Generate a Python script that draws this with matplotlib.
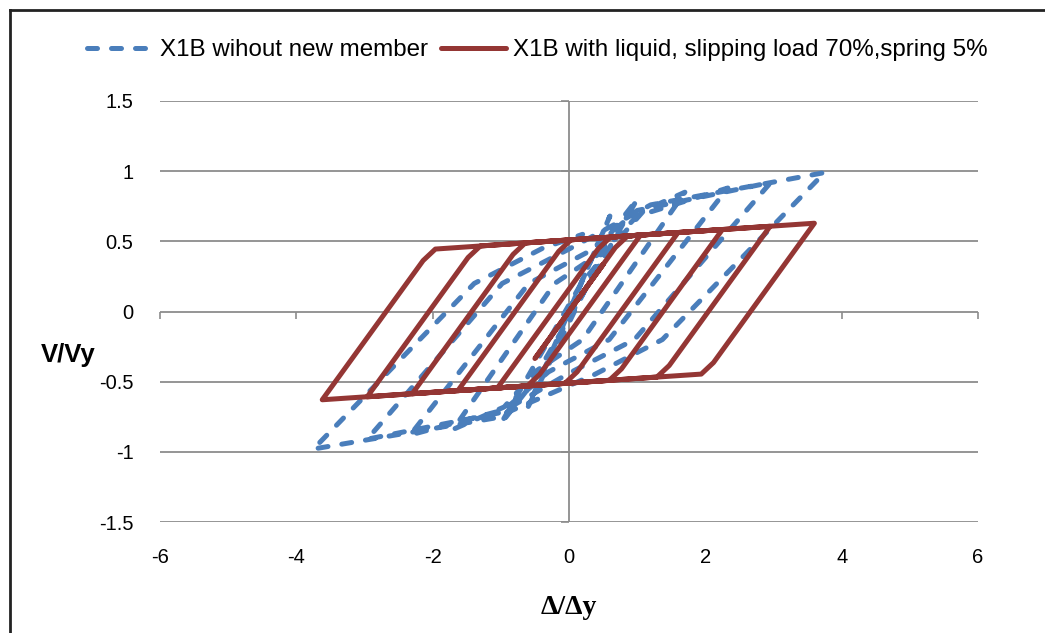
import matplotlib
matplotlib.use("Agg")
import matplotlib.pyplot as plt
from matplotlib.lines import Line2D
import numpy as np

# ---------------- data ----------------
blue_label = "X1B wihout new member"
red_label = "X1B with liquid, slipping load 70%,spring 5%"

blue_x = [0.0, 0.6, -0.6, 0.28, 0.6, 1.0, -0.18, -0.6, -1.0, 0.18, 0.7, 1.1, 1.7,
          0.2, -0.5, -0.95, -1.7, -0.21, 0.5, 1.0, 2.33, 0.59, -0.3, -0.95, -2.33,
          -0.59, 0.3, 1.0, 2.96, 0.96, 0.0, -1.0, -2.96, -0.98, 0.02, 1.2, 3.75,
          1.37, 0.37, -1.1, -3.75, -1.39, -0.39, 0.2]
blue_y = [0.0, 0.68, -0.68, 0.2, 0.55, 0.80, -0.2, -0.55, -0.80, 0.2, 0.5, 0.72, 0.85,
          -0.2, -0.43, -0.68, -0.84, 0.2, 0.43, 0.68, 0.88, -0.2, -0.43, -0.70, -0.88,
          0.2, 0.43, 0.72, 0.92, -0.2, -0.44, -0.72, -0.91, 0.2, 0.45, 0.76, 0.99,
          -0.2, -0.45, -0.76, -0.98, 0.2, 0.45, 0.55]

red_x = [0.0, 0.5, -0.5, 0.68, 0.86, 1.05,
         -0.43, -0.61, -1.05,
         0.43, 0.61, 1.6,
         0.12, -0.06, -1.63,
         -0.15, 0.03, 2.25,
         0.77, 0.59, -2.3,
         -0.82, -0.64, 2.95,
         1.47, 1.29, -2.96,
         -1.48, -1.30, 3.6,
         2.12, 1.94, -3.62,
         -2.14, -1.96, 0.0]
red_y = [0.0, 0.335, -0.335, 0.456, 0.538, 0.545,
         -0.448, -0.530, -0.545,
         0.448, 0.530, 0.563,
         -0.430, -0.512, -0.564,
         0.429, 0.511, 0.584,
         -0.409, -0.491, -0.586,
         0.407, 0.489, 0.607,
         -0.385, -0.467, -0.608,
         0.385, 0.467, 0.629,
         -0.364, -0.446, -0.629,
         0.363, 0.445, 0.510]

x_ticks = [-6, -4, -2, 0, 2, 4, 6]
y_ticks = [-1.5, -1, -0.5, 0, 0.5, 1, 1.5]
x_label = "\u0394/\u0394y"
y_label = "V/Vy"

# ---------------- style ----------------
plt.rcParams['font.family'] = ['Liberation Sans', 'DejaVu Sans']
BLUE = "#4A7EBB"
RED = "#943634"
GRID = "#8C8C8C"

fig = plt.figure(figsize=(10.45, 6.33), dpi=100)
ax = fig.add_axes([160/1045, 1-522/633, 818/1045, 421/633])

ax.set_xlim(-6, 6)
ax.set_ylim(-1.5, 1.5)
ax.set_xticks(x_ticks)
ax.set_yticks(y_ticks)
ax.set_xticklabels([f"{t:g}" for t in x_ticks])
ax.set_yticklabels([f"{t:g}" for t in y_ticks])
ax.tick_params(length=0, labelsize=14.5, pad=19, colors='black')
for s in ax.spines.values():
    s.set_visible(False)
ax.yaxis.grid(True, color=GRID, lw=1.3, zorder=0)
ax.xaxis.grid(False)
ax.set_axisbelow(True)

# axis lines crossing at zero with tick marks
ax.axvline(0, color=GRID, lw=1.3, zorder=0.5)
sx = ax.secondary_xaxis(0.49999)
sx.set_xticks(x_ticks)
sx.tick_params(direction='out', length=5, width=1.2, color=GRID, labelbottom=False, labeltop=False)
for s in sx.spines.values():
    s.set_visible(False)
sy = ax.secondary_yaxis(0.49999)
sy.set_yticks(y_ticks)
sy.tick_params(direction='out', length=6, width=1.2, color=GRID, labelleft=False, labelright=False)
for s in sy.spines.values():
    s.set_visible(False)

lb, = ax.plot(blue_x, blue_y, color=BLUE, lw=3.6, dashes=(2.0, 2.8),
              dash_capstyle='round', solid_joinstyle='round', label=blue_label, zorder=3)
lr, = ax.plot(red_x, red_y, color=RED, lw=3.6, solid_joinstyle='round',
              solid_capstyle='round', label=red_label, zorder=4)

ax.legend(handles=[lb, lr], loc='center', bbox_to_anchor=(0.5144, 0.921),
          bbox_transform=fig.transFigure, ncol=2, frameon=False, fontsize=17.4,
          handlelength=2.7, columnspacing=0.55, handletextpad=0.3, borderpad=0.2)

ax.set_ylabel(y_label, rotation=0, fontsize=18.5, fontweight='bold', ha='center', va='center')
ax.yaxis.set_label_coords((68-160)/818, (522-355)/421)
ax.set_xlabel(x_label, fontsize=20, fontweight='bold', family=['Liberation Serif', 'DejaVu Serif'],
              ha='center', va='center')
ax.xaxis.set_label_coords((569-160)/818, (522-608)/421)

# outer frame (left and top edges visible)
fx = 10/1045
fy = 1 - 10/633
fig.add_artist(Line2D([fx, fx], [0, fy], transform=fig.transFigure, color='#222222', lw=2))
fig.add_artist(Line2D([fx, 1.0], [fy, fy], transform=fig.transFigure, color='#222222', lw=2))

fig.savefig("out.png", dpi=100)
